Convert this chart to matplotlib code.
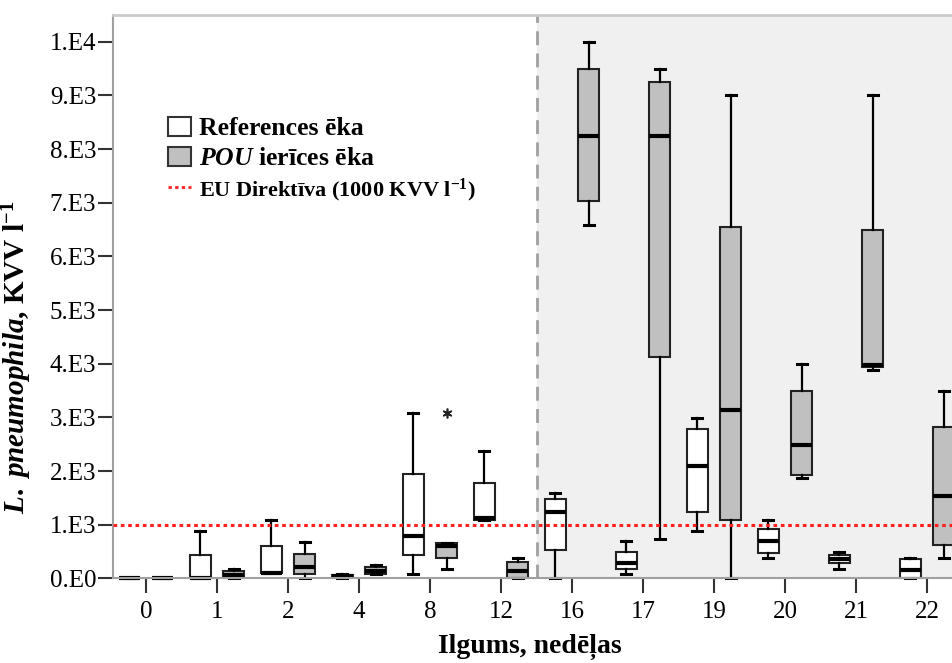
import matplotlib.pyplot as plt
from matplotlib.patches import Patch
from matplotlib.lines import Line2D

plt.rcParams["font.family"] = ["Liberation Serif", "DejaVu Serif"]
plt.rcParams["mathtext.fontset"] = "custom"
plt.rcParams["mathtext.rm"] = "Liberation Serif:bold"
plt.rcParams["mathtext.bf"] = "Liberation Serif:bold"
plt.rcParams["mathtext.it"] = "Liberation Serif:italic:bold"

weeks = ["0", "1", "2", "4", "8", "12", "16", "17", "19", "20", "21", "22"]

# References building: whisker low, q1, median, q3, whisker high
ref_min = [0, 0, 100, 10, 80, 1090, 0, 80, 890, 380, 180, 0]
ref_q1 = [0, 0, 100, 20, 440, 1090, 530, 180, 1230, 480, 280, 0]
ref_med = [0, 0, 110, 40, 790, 1130, 1230, 280, 2090, 690, 370, 160]
ref_q3 = [0, 440, 610, 70, 1940, 1780, 1480, 490, 2790, 930, 430, 360]
ref_max = [0, 890, 1090, 90, 3090, 2380, 1590, 690, 2990, 1090, 490, 380]

# POU device building
pou_min = [0, 0, 0, 80, 170, 0, 6590, 730, 0, 1880, 3890, 380]
pou_q1 = [0, 10, 85, 80, 390, 0, 7040, 4120, 1090, 1920, 3940, 620]
pou_med = [0, 60, 210, 145, 600, 140, 8250, 8250, 3140, 2480, 3980, 1540]
pou_q3 = [0, 140, 460, 210, 670, 300, 9500, 9250, 6540, 3490, 6500, 2830]
pou_max = [0, 180, 680, 250, 670, 390, 10000, 9500, 9000, 3990, 9000, 3490]
pou_out = [[], [], [], [], [3080], [], [], [], [], [], [], []]

eu_limit = 1000
ytick_vals = [0, 1000, 2000, 3000, 4000, 5000, 6000, 7000, 8000, 9000, 10000]
ytick_labels = ["0.E0", "1.E3", "2.E3", "3.E3", "4.E3", "5.E3", "6.E3",
                "7.E3", "8.E3", "9.E3", "1.E4"]


def make_stats(lo, q1, med, q3, hi, out=None):
    stats = []
    for i in range(len(lo)):
        stats.append(dict(whislo=lo[i], q1=q1[i], med=med[i], q3=q3[i],
                          whishi=hi[i], fliers=out[i] if out else []))
    return stats


fig = plt.figure(figsize=(9.52, 6.63), dpi=100)
ax = fig.add_axes([0.1187, 0.1275, 0.8813, 0.85])

pos = list(range(len(weeks)))
off = 0.235
w = 0.29

ax.axvspan(5.5, 12, color="#f0f0f0", zorder=0)
ax.axvline(5.5, color="#a0a0a0", ls=(0, (5, 3)), lw=2, zorder=1)
ax.axhline(eu_limit, color="#ff2020", ls=(0, (1.2, 1.2)), lw=2.2, zorder=4)

common = dict(widths=w, patch_artist=True, showfliers=True,
              whiskerprops=dict(color="black", lw=1.6),
              capprops=dict(color="black", lw=2.2),
              medianprops=dict(color="black", lw=3),
              flierprops=dict(marker=(6, 2, 0), markersize=7, color="black",
                              markeredgewidth=1.2, markeredgecolor="#222222"))

b1 = ax.bxp(make_stats(ref_min, ref_q1, ref_med, ref_q3, ref_max),
            positions=[p - off for p in pos],
            boxprops=dict(facecolor="white", edgecolor="#222222", lw=1.5), **common)
b2 = ax.bxp(make_stats(pou_min, pou_q1, pou_med, pou_q3, pou_max, pou_out),
            positions=[p + off for p in pos],
            boxprops=dict(facecolor="#c0c0c0", edgecolor="#222222", lw=1.5), **common)
for b in (b1, b2):
    for k in b:
        for a in b[k]:
            a.set_clip_on(False)

ax.set_xlim(-0.465, 11.352)
ax.set_ylim(0, 10500)
ax.set_xticks(pos)
ax.set_xticklabels(weeks)
ax.set_yticks(ytick_vals)
ax.set_yticklabels(ytick_labels)
ax.tick_params(axis="both", labelsize=18, length=11, width=1.5,
               color="#333333", direction="out")
ax.tick_params(axis="x", pad=5)
ax.tick_params(axis="y", pad=1)

for s in ["left", "bottom"]:
    ax.spines[s].set_color("#a0a0a0")
    ax.spines[s].set_linewidth(1.5)
ax.spines["top"].set_color("#cccccc")
ax.spines["top"].set_linewidth(2)
ax.spines["right"].set_visible(False)

ax.set_ylabel(r"$\mathit{L.}$ $\mathit{pneumophila}$, KVV l$^{-1}$", fontsize=21,
              fontweight="bold")
ax.yaxis.set_label_coords(-0.094, 0.393)
ax.set_xlabel("Ilgums, nedēļas", fontsize=20, fontweight="bold")
ax.xaxis.set_label_coords(0.497, -0.098)

handles = [Patch(facecolor="white", edgecolor="#333333", lw=1.5),
           Patch(facecolor="#c0c0c0", edgecolor="#333333", lw=1.5),
           Line2D([0], [0], color="#ff2020", ls=(0, (1.2, 1.2)), lw=2)]
labels = ["References ēka", r"$\mathit{POU}$ ierīces ēka",
          r"EU Direktīva (1000 KVV l$^{-1}$)"]
leg = ax.legend(handles, labels, loc="upper left", bbox_to_anchor=(0.05, 0.8425),
                frameon=False, borderpad=0, handlelength=0.9, handleheight=0.8,
                handletextpad=0.3, labelspacing=0.25,
                prop=dict(family="Liberation Serif", weight="bold", size=18.5))
leg.get_texts()[2].set_fontsize(16)

fig.savefig("out.png", dpi=100)
